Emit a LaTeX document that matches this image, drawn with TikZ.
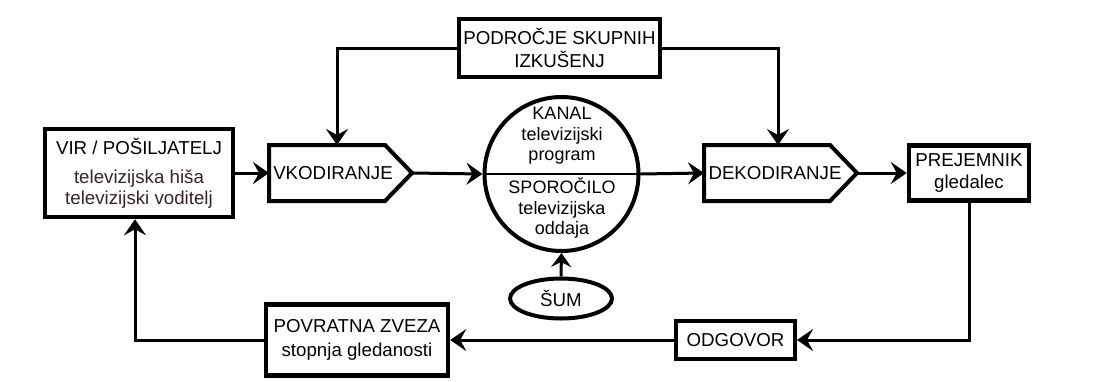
\documentclass[tikz,border=0pt]{standalone}
\usepackage{fontspec}
\setmainfont{Liberation Sans}
\usetikzlibrary{arrows.meta,shapes.geometric}
\definecolor{subtxt}{HTML}{33242F}
\begin{document}
\begin{tikzpicture}[x=1pt,y=-1pt,
  every node/.style={font=\fontsize{18.7}{20.5}\selectfont, align=center, inner sep=0pt},
  circtxt/.style={font=\fontsize{18}{20.5}\selectfont},
  box/.style={draw, line width=4.5pt, rectangle},
  frame/.style={rectangle, outer sep=0pt},
  pentagon/.style={line width=4pt, line join=miter},
  conn/.style={line width=3pt, -{Stealth[length=16pt,width=22pt,inset=6pt]}},
  connsmall/.style={line width=3pt, -{Stealth[length=14pt,width=20pt,inset=5pt]}},
  divider/.style={line width=2pt}]
\useasboundingbox (0,0) rectangle (1104,381);

% boxes
\node[box, minimum width=188, minimum height=88] (vir) at (139,173)
  {VIR / POŠILJATELJ\\[9pt]{\color{subtxt}televizijska hiša}\\{\color{subtxt}televizijski voditelj}};

\node[frame, minimum width=143, minimum height=56] (vk) at (340.5,173) {};
\draw[pentagon] (vk.north west) -- ([xshift=-27pt]vk.north east) -- (vk.east)
  -- ([xshift=-27pt]vk.south east) -- (vk.south west) -- cycle;
\node (vktxt) at (333,173) {VKODIRANJE};

\node[circle, draw, line width=4pt, minimum size=154] (kan) at (561.5,174) {};
\node[circtxt] (kantxt) at (562,136) {KANAL\\televizijski\\program};
\node[circtxt] (sportxt) at (562,208) {SPOROČILO\\televizijska\\oddaja};

\node[frame, minimum width=153, minimum height=56] (dek) at (780.5,173) {};
\draw[pentagon] (dek.north west) -- ([xshift=-27pt]dek.north east) -- (dek.east)
  -- ([xshift=-27pt]dek.south east) -- (dek.south west) -- cycle;
\node (dektxt) at (775,173) {DEKODIRANJE};

\node[box, minimum width=120, minimum height=55] (prej) at (969,173) {PREJEMNIK\\[2pt]gledalec};
\node[box, minimum width=201, minimum height=58] (pod) at (559.5,48) {PODROČJE SKUPNIH\\[2pt]IZKUŠENJ};
\node[ellipse, draw, line width=4pt, minimum width=102, minimum height=40] (sum) at (561,298.5) {ŠUM};
\node[box, line width=4pt, minimum width=119, minimum height=38] (odg) at (735.5,340) {ODGOVOR};
\node[box, minimum width=182, minimum height=71] (pov) at (357,340) {POVRATNA ZVEZA\\[3pt]stopnja gledanosti};

% connectors
\draw[divider] (kan.west) -- (kan.east);
\draw[conn] (vir.east) -- (vk.west);
\draw[conn] (vk.east) -- (kan.west);
\draw[conn] (kan.east) -- (dek.west);
\draw[conn] (dek.east) -- (prej.west);
\draw[conn] (pod.west) -| ([xshift=-3.5pt]vk.north);
\draw[conn] (pod.east) -| ([xshift=-2.5pt]dek.north);
\draw[connsmall] (sum.north) -- (kan.south);
\draw[conn] (prej.south) |- (odg.east);
\draw[conn] (odg.west) -- (pov.east);
\draw[conn] (pov.west) -| ([xshift=-4pt]vir.south);
\end{tikzpicture}
\end{document}
